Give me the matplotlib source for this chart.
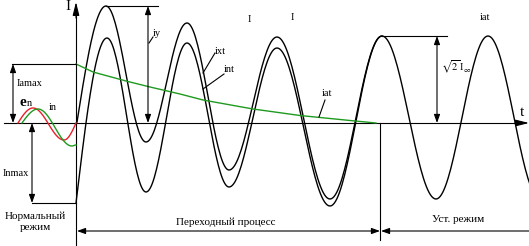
import numpy as np
import matplotlib
matplotlib.use("Agg")
import matplotlib.pyplot as plt

# time axis in px, current measured up from the t-axis
ixt_t = [77, 106, 146, 187, 229, 277, 330, 382, 436, 488, 540]
ixt_v = [1, 117, -19, 100, -47, 86, -76, 87, -76, 87, -76]
int_t = [76, 107, 146, 187, 229, 277, 330, 382]
int_v = [-80, 85, -69, 80, -64, 75, -83, 87]
iat_t = [76, 93, 126, 150, 180, 203, 253, 300, 350, 376]
iat_v = [59, 51, 42, 36, 29, 23, 14, 7.5, 2.5, 0]
en_t = [18, 33, 64, 76]
en_v = [0, 15, -17, 0]
in_t = [22, 38, 72, 76]
in_v = [0, 14, -23, -22]

plt.rcParams['font.family'] = ['Liberation Serif', 'DejaVu Serif']
plt.rcParams['mathtext.fontset'] = 'stix'


def wave(ts, vs, steep_start=True, steep_end=False, n=40):
    xs, ys = [], []
    last = len(ts) - 2
    for i in range(len(ts) - 1):
        s = np.linspace(0, 1, n)
        if i == 0 and steep_start:
            e = np.sin(np.pi / 2 * s)
        elif i == last and steep_end:
            e = 1 - np.cos(np.pi / 2 * s)
        else:
            e = (1 - np.cos(np.pi * s)) / 2
        xs.append(ts[i] + (ts[i + 1] - ts[i]) * s)
        ys.append(vs[i] + (vs[i + 1] - vs[i]) * e)
    return np.concatenate(xs), np.concatenate(ys)


fig = plt.figure(figsize=(5.29, 2.46), dpi=100)
ax = fig.add_axes([0, 0, 1, 1])
ax.set_xlim(0, 529)
ax.set_ylim(-123, 123)
ax.axis("off")

k = dict(color="black", lw=0.8)
# axes
ax.plot([4, 522], [0, 0], **k)
ax.annotate("", xy=(529, 0), xytext=(515, 0),
            arrowprops=dict(arrowstyle="-|>,head_length=0.8,head_width=0.2", color="black", lw=0.8,
                            shrinkA=0, shrinkB=0))
ax.plot([76, 76], [-122, 110], **k)
ax.annotate("", xy=(76, 121), xytext=(76, 105),
            arrowprops=dict(arrowstyle="-|>,head_length=0.8,head_width=0.2", color="black", lw=0.8,
                            shrinkA=0, shrinkB=0))

# curves
x, y = wave(ixt_t, ixt_v)
ax.plot(x, y, color="black", lw=1.0)
x, y = wave(int_t, int_v)
ax.plot(x, y, color="black", lw=1.0)
ax.plot(iat_t, iat_v, color="#1f9a1f", lw=1.0)
x, y = wave(en_t, en_v, steep_end=True)
ax.plot(x, y, color="#e8202a", lw=1.0)
x, y = wave(in_t, in_v)
ax.plot(x, y, color="#1f9a1f", lw=1.0)

dbl = dict(arrowstyle="<|-|>,head_length=0.5,head_width=0.18", color="black", lw=0.8,
           shrinkA=0, shrinkB=0)
one = dict(arrowstyle="-|>,head_length=0.5,head_width=0.18", color="black", lw=0.8,
           shrinkA=0, shrinkB=0)

# iy
ax.plot([106, 158], [117, 117], **k)
ax.annotate("", xy=(148, 117), xytext=(148, 0), arrowprops=dbl)
ax.plot([149, 153], [80, 86], **k)
# Iamax
ax.plot([12, 76], [59, 59], **k)
ax.annotate("", xy=(13, 59), xytext=(13, 0), arrowprops=dbl)
# Inmax
ax.plot([32, 76], [-80, -80], **k)
ax.annotate("", xy=(32, 0), xytext=(32, -80), arrowprops=dbl)
# sqrt2 I
ax.plot([382, 447], [87, 87], **k)
ax.annotate("", xy=(437, 87), xytext=(437, 0), arrowprops=dbl)

# bottom ranges
ax.plot([380, 380], [0, -117], **k)
ax.annotate("", xy=(77, -108), xytext=(380, -108), arrowprops=dbl)
ax.annotate("", xy=(381, -108), xytext=(529, -108), arrowprops=one)

# leaders
ax.plot([203, 215], [50, 70], **k)
ax.plot([203, 224], [34, 49], **k)
ax.plot([319, 325], [6, 23], **k)

fs = 7.5
ax.text(68, 116, "I", fontsize=11, ha="center", va="center")
ax.text(522, 10, "t", fontsize=11, ha="center", va="center")
ax.text(153, 90, "iy", fontsize=fs, ha="left", va="center")
ax.text(17, 40, "Iamax", fontsize=fs, ha="left", va="center")
ax.text(3, -50, "Inmax", fontsize=fs, ha="left", va="center")
ax.text(19, 21, "e", fontsize=11, fontweight="bold", ha="left", va="center")
ax.text(27, 19, "n", fontsize=fs, ha="left", va="center")
ax.text(53, 15, "in", fontsize=fs, ha="center", va="center")
ax.text(220, 72, "ixt", fontsize=fs, ha="center", va="center")
ax.text(229, 53, "int", fontsize=fs, ha="center", va="center")
ax.text(327, 29, "iat", fontsize=fs, ha="center", va="center")
ax.text(249, 103, "I", fontsize=fs, ha="center", va="center")
ax.text(292, 105, "I", fontsize=fs, ha="center", va="center")
ax.text(485, 106, "iat", fontsize=fs, ha="center", va="center")
ax.text(441, 56, r"$\sqrt{2}\,$I$_{\infty}$", fontsize=fs, ha="left", va="center")
ax.text(35, -93, "Нормальный", fontsize=8, ha="center", va="center")
ax.text(35, -105, "режим", fontsize=8, ha="center", va="center")
ax.text(226, -99, "Переходный процесс", fontsize=8, ha="center", va="center")
ax.text(458, -97, "Уст. режим", fontsize=8, ha="center", va="center")

fig.savefig("out.png", dpi=100)
